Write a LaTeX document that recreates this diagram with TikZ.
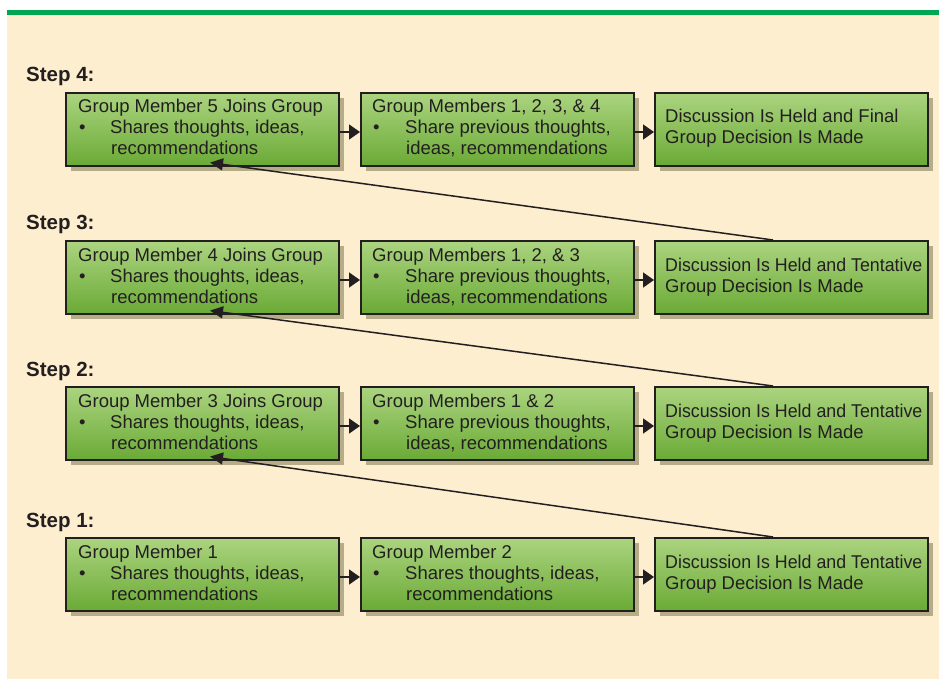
\documentclass[tikz,border=0pt]{standalone}
\usepackage{fontspec}
\setmainfont{Liberation Sans}
\newfontfamily\condA[FakeStretch=0.962]{Liberation Sans}
\usetikzlibrary{arrows.meta,shadows,calc}
\definecolor{cream}{HTML}{FDEECF}
\definecolor{topline}{HTML}{00A651}
\definecolor{gtop}{HTML}{ABD47F}
\definecolor{gbot}{HTML}{6BAA36}
\definecolor{shadowc}{HTML}{B5AD87}
\definecolor{ink}{HTML}{231F20}
\begin{document}
\begin{tikzpicture}[x=1pt,y=-1pt,
  box/.style={draw=ink, line width=1.6pt, top color=gtop, bottom color=gbot,
    minimum width=273pt, minimum height=73pt, inner sep=0pt, anchor=north west,
    drop shadow={shadow xshift=5pt, shadow yshift=-5pt, fill=shadowc, opacity=1}},
  txt/.style={anchor=base west, inner sep=0pt, text=ink, font=\fontsize{18.5}{21}\selectfont},
  steplbl/.style={anchor=base west, inner sep=0pt, text=ink, font=\fontsize{20.5}{24}\selectfont\bfseries},
  flow/.style={draw=ink, line width=1.6pt, -{Triangle[length=11pt,width=15pt]}},
  back/.style={draw=ink, line width=1.5pt, -{Triangle[length=13pt,width=12pt]}},
]
\useasboundingbox (0,0) rectangle (939,679);
\fill[white] (0,0) rectangle (939,679);
\fill[cream] (7,15) rectangle (939,679);
\fill[topline] (7,10) rectangle (939,15);

% Step labels
\node[steplbl] (s4) at (26,82) {Step 4:};
\node[steplbl] (s3) at (26,229) {Step 3:};
\node[steplbl] (s2) at (26,376) {Step 2:};
\node[steplbl] (s1) at (26,527) {Step 1:};

% Row 4
\node[box] (b41) at (65,92) {};
\node[box] (b42) at (360,92) {};
\node[box] (b43) at (654,92) {};
% Row 3
\node[box] (b31) at (65,240) {};
\node[box] (b32) at (360,240) {};
\node[box] (b33) at (654,240) {};
% Row 2
\node[box] (b21) at (65,386) {};
\node[box] (b22) at (360,386) {};
\node[box] (b23) at (654,386) {};
% Row 1
\node[box] (b11) at (65,537) {};
\node[box] (b12) at (360,537) {};
\node[box] (b13) at (654,537) {};

% Texts row 4
\node[txt] (t41a) at ($(b41.north west)+(13,21)$) {Group Member 5 Joins Group};
\node[txt] (t41b) at ($(b41.north west)+(14,42)$) {•};
\node[txt] (t41c) at ($(b41.north west)+(45,42)$) {Shares thoughts, ideas,};
\node[txt] (t41d) at ($(b41.north west)+(46,63)$) {recommendations};
\node[txt] (t42a) at ($(b42.north west)+(12,21)$) {Group Members 1, 2, 3, \& 4};
\node[txt] (t42b) at ($(b42.north west)+(13,42)$) {•};
\node[txt] (t42c) at ($(b42.north west)+(45,42)$) {Share previous thoughts,};
\node[txt] (t42d) at ($(b42.north west)+(46,63)$) {ideas, recommendations};
\node[txt] (t43a) at ($(b43.north west)+(11,31)$) {Discussion Is Held and Final};
\node[txt] (t43b) at ($(b43.north west)+(11,52)$) {Group Decision Is Made};

% Texts row 3
\node[txt] (t31a) at ($(b31.north west)+(13,21)$) {Group Member 4 Joins Group};
\node[txt] (t31b) at ($(b31.north west)+(14,42)$) {•};
\node[txt] (t31c) at ($(b31.north west)+(45,42)$) {Shares thoughts, ideas,};
\node[txt] (t31d) at ($(b31.north west)+(46,63)$) {recommendations};
\node[txt] (t32a) at ($(b32.north west)+(12,21)$) {Group Members 1, 2, \& 3};
\node[txt] (t32b) at ($(b32.north west)+(13,42)$) {•};
\node[txt] (t32c) at ($(b32.north west)+(45,42)$) {Share previous thoughts,};
\node[txt] (t32d) at ($(b32.north west)+(46,63)$) {ideas, recommendations};
\node[txt] (t33a) at ($(b33.north west)+(11,31)$) {\condA Discussion Is Held and Tentative};
\node[txt] (t33b) at ($(b33.north west)+(11,52)$) {Group Decision Is Made};

% Texts row 2
\node[txt] (t21a) at ($(b21.north west)+(13,21)$) {Group Member 3 Joins Group};
\node[txt] (t21b) at ($(b21.north west)+(14,42)$) {•};
\node[txt] (t21c) at ($(b21.north west)+(45,42)$) {Shares thoughts, ideas,};
\node[txt] (t21d) at ($(b21.north west)+(46,63)$) {recommendations};
\node[txt] (t22a) at ($(b22.north west)+(12,21)$) {Group Members 1 \& 2};
\node[txt] (t22b) at ($(b22.north west)+(13,42)$) {•};
\node[txt] (t22c) at ($(b22.north west)+(45,42)$) {Share previous thoughts,};
\node[txt] (t22d) at ($(b22.north west)+(46,63)$) {ideas, recommendations};
\node[txt] (t23a) at ($(b23.north west)+(11,31)$) {\condA Discussion Is Held and Tentative};
\node[txt] (t23b) at ($(b23.north west)+(11,52)$) {Group Decision Is Made};

% Texts row 1
\node[txt] (t11a) at ($(b11.north west)+(13,21)$) {Group Member 1};
\node[txt] (t11b) at ($(b11.north west)+(14,42)$) {•};
\node[txt] (t11c) at ($(b11.north west)+(45,42)$) {Shares thoughts, ideas,};
\node[txt] (t11d) at ($(b11.north west)+(46,63)$) {recommendations};
\node[txt] (t12a) at ($(b12.north west)+(12,21)$) {Group Member 2};
\node[txt] (t12b) at ($(b12.north west)+(13,42)$) {•};
\node[txt] (t12c) at ($(b12.north west)+(45,42)$) {Shares thoughts, ideas,};
\node[txt] (t12d) at ($(b12.north west)+(46,63)$) {recommendations};
\node[txt] (t13a) at ($(b13.north west)+(11,31)$) {\condA Discussion Is Held and Tentative};
\node[txt] (t13b) at ($(b13.north west)+(11,52)$) {Group Decision Is Made};

% Horizontal arrows
\foreach \r in {4,3,2,1}{
  \draw[flow] ($(b\r1.north east)+(0,40)$) -- ($(b\r2.north west)+(0,40)$);
  \draw[flow] ($(b\r2.north east)+(0,40)$) -- ($(b\r3.north west)+(0,40)$);
}

% Back arrows
\draw[back] ($(b13.north west)+(119,0)$) -- ($(b21.south west)+(145,-4)$);
\draw[back] ($(b23.north west)+(119,0)$) -- ($(b31.south west)+(145,-4)$);
\draw[back] ($(b33.north west)+(119,0)$) -- ($(b41.south west)+(145,-4)$);
\end{tikzpicture}
\end{document}
